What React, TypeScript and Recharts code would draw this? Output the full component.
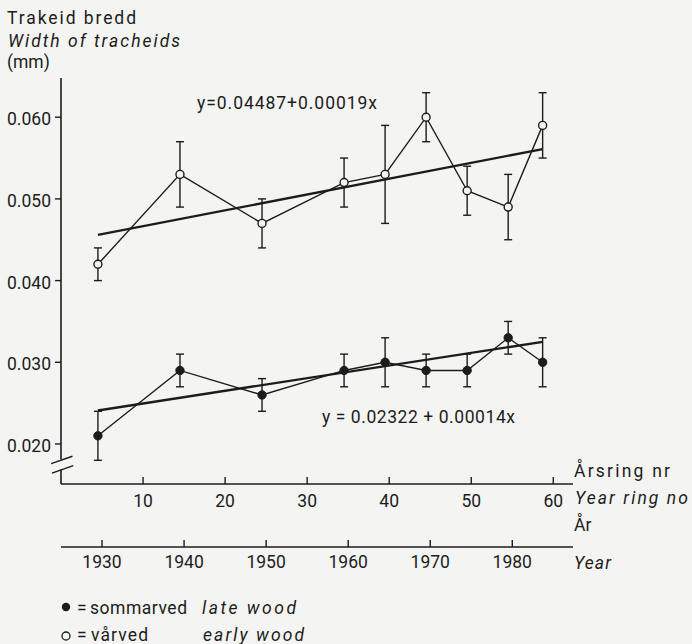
import { ComposedChart, Line, XAxis, YAxis, ErrorBar, ReferenceLine } from "recharts";

// year ring numbers where the means were taken
const rings = [4.5, 14.5, 24.5, 34.5, 39.5, 44.5, 49.5, 54.5, 58.7];

// early wood (vårved), mm
const earlyWood = [0.042, 0.053, 0.047, 0.052, 0.053, 0.06, 0.051, 0.049, 0.059];
const earlyHigh = [0.044, 0.057, 0.05, 0.055, 0.059, 0.063, 0.054, 0.053, 0.063];
const earlyLow = [0.04, 0.049, 0.044, 0.049, 0.047, 0.057, 0.048, 0.045, 0.055];

// late wood (sommarved), mm
const lateWood = [0.021, 0.029, 0.026, 0.029, 0.03, 0.029, 0.029, 0.033, 0.03];
const lateHigh = [0.024, 0.031, 0.028, 0.031, 0.033, 0.031, 0.031, 0.035, 0.033];
const lateLow = [0.018, 0.027, 0.024, 0.027, 0.027, 0.027, 0.027, 0.031, 0.027];

// regression lines as drawn
const trendRings = [4.5, 58.7];
const earlyTrend = [0.0456, 0.0561];
const lateTrend = [0.0241, 0.0325];

const widthTicks = [0.02, 0.03, 0.04, 0.05, 0.06];
const ringTicks = [10, 20, 30, 40, 50, 60];
const yearTicks = [1930, 1940, 1950, 1960, 1970, 1980];
const ringMax = 62.4;
const firstYear = 1925;
const widthDomain = [0.0151, 0.0648];

const INK = "#1c1c1c";
const BG = "#f4f4f2";
const FONT = "Roboto, 'DejaVu Sans', sans-serif";

const earlyData = rings.map((ring, i) => ({
  ring,
  width: earlyWood[i],
  err: [earlyWood[i] - earlyLow[i], earlyHigh[i] - earlyWood[i]],
}));
const lateData = rings.map((ring, i) => ({
  ring,
  width: lateWood[i],
  err: [lateWood[i] - lateLow[i], lateHigh[i] - lateWood[i]],
}));
const earlyTrendData = trendRings.map((ring, i) => ({ ring, width: earlyTrend[i] }));
const lateTrendData = trendRings.map((ring, i) => ({ ring, width: lateTrend[i] }));
// only there so the year axis gets a scale
const yearData = yearTicks.map((year) => ({ year }));

function UpTick(props: any) {
  const { x, y, payload, labelDy } = props;
  return (
    <g>
      <line x1={x} x2={x} y1={y} y2={y - 7} stroke={INK} strokeWidth={1.4} />
      <text x={x} y={y + labelDy} textAnchor="middle" fontSize={17.5} fill={INK} fontFamily={FONT}>
        {payload.value}
      </text>
    </g>
  );
}

function Txt({ x, y, w, children, italic }: any) {
  return (
    <text x={x} y={y} textLength={w} lengthAdjust={w ? "spacing" : undefined} fontStyle={italic ? "italic" : undefined}>
      {children}
    </text>
  );
}

export default function App() {
  return (
    <div style={{ position: "absolute", left: 0, top: 0, width: 692, height: 644, background: BG, overflow: "hidden" }}>
      <ComposedChart width={692} height={644} margin={{ top: 78, right: 119, left: 0, bottom: 57 }}>
        <XAxis
          xAxisId="ring"
          dataKey="ring"
          type="number"
          domain={[0, ringMax]}
          ticks={ringTicks}
          height={63}
          tickSize={0}
          tickMargin={0}
          axisLine={{ stroke: INK, strokeWidth: 1.6 }}
          tickLine={false}
          tick={(p: any) => <UpTick {...p} labelDy={23} />}
        />
        <XAxis
          xAxisId="year"
          dataKey="year"
          type="number"
          domain={[firstYear, firstYear + ringMax]}
          ticks={yearTicks}
          height={40}
          tickSize={0}
          tickMargin={0}
          axisLine={{ stroke: INK, strokeWidth: 1.6 }}
          tickLine={false}
          tick={(p: any) => <UpTick {...p} labelDy={21} />}
        />
        <YAxis
          type="number"
          domain={widthDomain}
          ticks={widthTicks}
          width={61}
          axisLine={false}
          tickSize={6}
          tickMargin={4}
          tickLine={{ stroke: INK, strokeWidth: 1.4 }}
          tickFormatter={(v: number) => v.toFixed(3)}
          tick={{ fill: INK, fontSize: 17.5, fontFamily: FONT, dy: 2 }}
        />
        <ReferenceLine xAxisId="ring" segment={[{ x: 0, y: 0.0181 }, { x: 0, y: widthDomain[1] }]} stroke={INK} strokeWidth={1.6} ifOverflow="visible" />
        <ReferenceLine xAxisId="ring" segment={[{ x: 0, y: widthDomain[0] }, { x: 0, y: 0.0169 }]} stroke={INK} strokeWidth={1.6} ifOverflow="visible" />
        <ReferenceLine xAxisId="ring" segment={[{ x: -1.2, y: 0.01759 }, { x: 1.4, y: 0.0185 }]} stroke={INK} strokeWidth={1.4} ifOverflow="visible" />
        <ReferenceLine xAxisId="ring" segment={[{ x: -1.1, y: 0.01643 }, { x: 1.5, y: 0.01734 }]} stroke={INK} strokeWidth={1.4} ifOverflow="visible" />

        <Line xAxisId="year" data={yearData} dataKey="width" stroke="none" dot={false} isAnimationActive={false} />

        <Line xAxisId="ring" data={earlyTrendData} dataKey="width" stroke={INK} strokeWidth={2.4} dot={false} isAnimationActive={false} />
        <Line xAxisId="ring" data={lateTrendData} dataKey="width" stroke={INK} strokeWidth={2.4} dot={false} isAnimationActive={false} />

        <Line
          xAxisId="ring"
          data={earlyData}
          dataKey="width"
          stroke={INK}
          strokeWidth={1.4}
          dot={{ r: 4, fill: BG, stroke: INK, strokeWidth: 1.4 }}
          isAnimationActive={false}
        >
          <ErrorBar dataKey="err" direction="y" width={4} stroke={INK} strokeWidth={1.4} />
        </Line>
        <Line
          xAxisId="ring"
          data={lateData}
          dataKey="width"
          stroke={INK}
          strokeWidth={1.4}
          dot={{ r: 4.2, fill: INK, stroke: INK, strokeWidth: 1 }}
          isAnimationActive={false}
        >
          <ErrorBar dataKey="err" direction="y" width={4} stroke={INK} strokeWidth={1.4} />
        </Line>
      </ComposedChart>

      <svg width={692} height={644} style={{ position: "absolute", left: 0, top: 0, pointerEvents: "none" }} fontFamily={FONT} fill={INK} fontSize={17.5}>
        <Txt x={7} y={24} w={129}>Trakeid bredd</Txt>
        <Txt x={8} y={47} w={172} italic>Width of tracheids</Txt>
        <Txt x={7} y={68}>(mm)</Txt>

        <Txt x={197} y={109} w={180}>y=0.04487+0.00019x</Txt>
        <Txt x={322} y={423} w={193}>y = 0.02322 + 0.00014x</Txt>

        <Txt x={574} y={477} w={96}>Årsring nr</Txt>
        <Txt x={575} y={504} w={113} italic>Year ring no</Txt>
        <Txt x={574} y={531}>År</Txt>
        <Txt x={574} y={569} w={37} italic>Year</Txt>

        <circle cx={66} cy={607} r={4.2} fill={INK} />
        <text x={77} y={614}>=</text>
        <Txt x={90} y={614} w={97}>sommarved</Txt>
        <Txt x={202} y={614} w={94} italic>late wood</Txt>
        <circle cx={66} cy={636} r={4} fill="none" stroke={INK} strokeWidth={1.3} />
        <text x={77} y={641}>=</text>
        <Txt x={91} y={641} w={57}>vårved</Txt>
        <Txt x={203} y={641} w={101} italic>early wood</Txt>
      </svg>
    </div>
  );
}
